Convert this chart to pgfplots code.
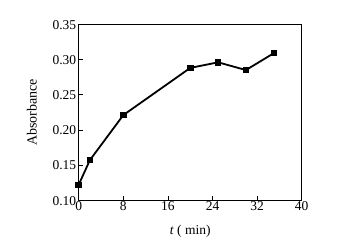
\documentclass[border=0pt]{standalone}
\usepackage{pgfplots}
\pgfplotsset{compat=1.18}
\usepackage{fontspec}
\setmainfont{Liberation Serif}
\begin{document}
\begin{tikzpicture}
\begin{axis}[
  scale only axis, width=223pt, height=176pt,
  xmin=0, xmax=40, ymin=0.10, ymax=0.35,
  xtick={0,8,16,24,32,40},
  ytick={0.10,0.15,0.20,0.25,0.30,0.35},
  yticklabel style={/pgf/number format/fixed, /pgf/number format/fixed zerofill, /pgf/number format/precision=2},
  /pgf/number format/assume math mode=true,
  tick align=inside, tick pos=left,
  major tick length=4pt,
  ticklabel style={font=\fontsize{13.5}{13.5}\selectfont},
  xticklabel style={yshift=2pt},
  yticklabel style={xshift=1pt, yshift=-0.5pt},
  xlabel={\textit{t} ( min)},
  ylabel={Absorbance},
  xlabel style={font=\fontsize{13.5}{13.5}\selectfont, yshift=-7pt},
  ylabel style={font=\fontsize{14}{14}\selectfont, yshift=9pt},
  axis line style={line width=0.9pt},
  tick style={line width=0.6pt, black},
]
\addplot[black, line width=1.8pt, mark=square*, mark size=2.4pt] coordinates {
  (0,0.122) (2,0.157) (8,0.221) (20,0.288) (25,0.296) (30,0.285) (35,0.309)
};
\draw[line width=1.8pt] (axis cs:0,0.35) -- (axis cs:34.3,0.35);
\end{axis}
\path[use as bounding box] ([shift={(-78.7pt,-44.7pt)}]current axis.south west) rectangle ([shift={(35.3pt,24.3pt)}]current axis.north east);
\end{tikzpicture}
\end{document}
